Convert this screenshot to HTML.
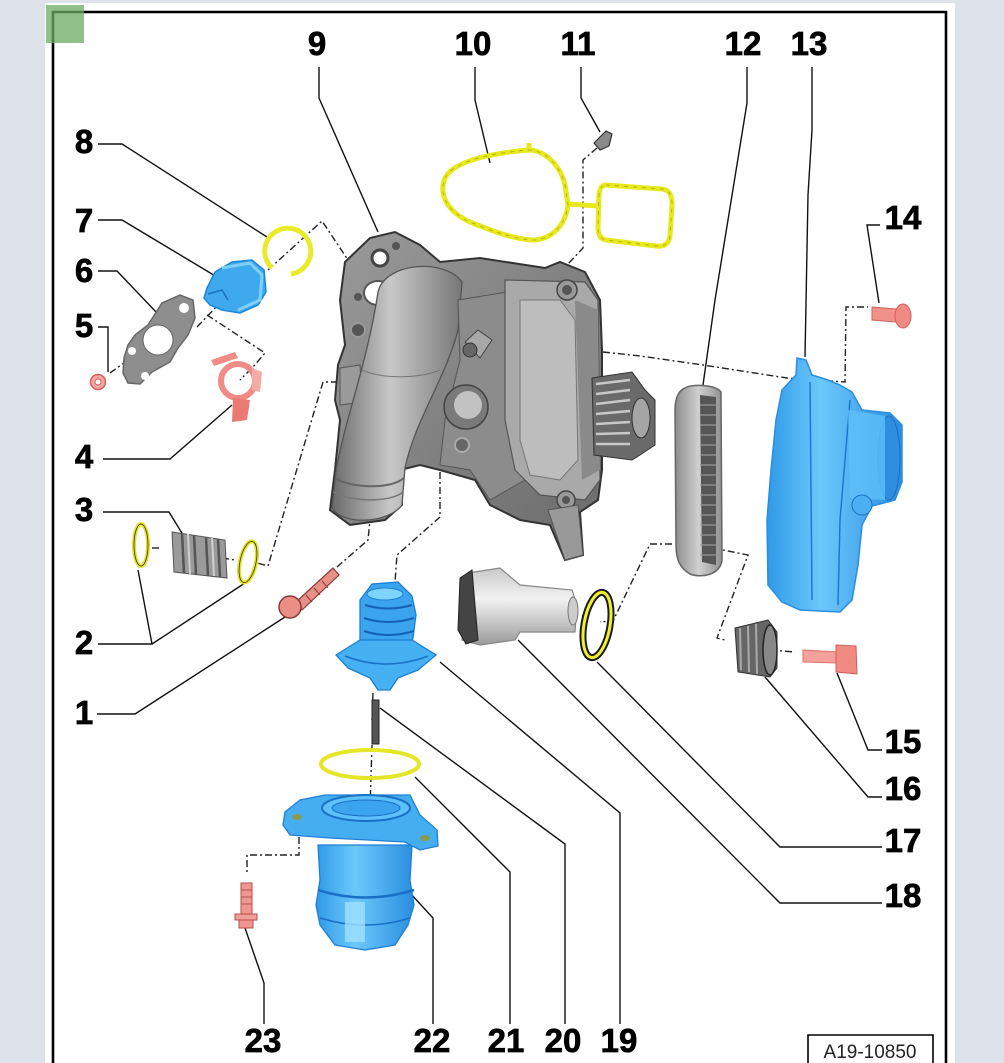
<!DOCTYPE html>
<html><head><meta charset="utf-8"><style>
html,body{margin:0;padding:0;background:#dde3e8;}
svg{display:block;}
.lb{font-family:"Liberation Sans",Arial,sans-serif;font-weight:bold;font-size:33px;fill:#000;stroke:#000;stroke-width:0.7;text-anchor:middle;}
.ld{fill:none;stroke:#111;stroke-width:1.4;}
.cl{fill:none;stroke:#222;stroke-width:1.4;stroke-dasharray:7 3 2 3;}
</style></head><body>
<svg width="1004" height="1063" viewBox="0 0 1004 1063" xmlns="http://www.w3.org/2000/svg">
<defs>
<linearGradient id="pipe" x1="0" y1="0" x2="1" y2="0">
<stop offset="0" stop-color="#6a6a6a"/><stop offset="0.45" stop-color="#c8c8c8"/><stop offset="1" stop-color="#777"/></linearGradient>
<linearGradient id="gbody" x1="0" y1="0" x2="1" y2="1">
<stop offset="0" stop-color="#9a9a9a"/><stop offset="1" stop-color="#6a6a6a"/></linearGradient>
<linearGradient id="blue" x1="0" y1="0" x2="1" y2="0">
<stop offset="0" stop-color="#2f9ae8"/><stop offset="0.4" stop-color="#6cc8fb"/><stop offset="1" stop-color="#2a8de0"/></linearGradient>
<linearGradient id="belt" x1="0" y1="0" x2="1" y2="0">
<stop offset="0" stop-color="#8c8c8c"/><stop offset="0.5" stop-color="#d0d0d0"/><stop offset="1" stop-color="#909090"/></linearGradient>
<linearGradient id="spin" x1="0" y1="0" x2="0" y2="1">
<stop offset="0" stop-color="#c8c8c8"/><stop offset="0.4" stop-color="#f2f2f2"/><stop offset="1" stop-color="#9a9a9a"/></linearGradient>
</defs>
<rect x="45" y="3" width="910" height="1060" fill="#fff"/>
<path d="M53,1063 L53,12 L946,12 L946,1063" fill="none" stroke="#000" stroke-width="2.6"/>
<rect x="46" y="5" width="38" height="38" fill="#6aac62" opacity="0.75"/>

<path class="cl" d="M268,270 L322,221 L370,293 L383,283"/>
<path class="cl" d="M207,315 L265,353 L253,367 L240,380"/>
<path class="cl" d="M110,373 L128,360"/>
<path class="cl" d="M197,327 L220,303"/>
<path class="cl" d="M338,382 L323,382 L268,566 L257,563"/>
<path class="cl" d="M152,548 L162,548"/>
<path class="cl" d="M222,558 L235,560"/>
<path class="cl" d="M337,567 L368,540 L378,437 L463,353"/>
<path class="cl" d="M440,457 L440,517 L397,555 L395,582"/>
<path class="cl" d="M373,693 L372,720"/>
<path class="cl" d="M372,745 L370,808"/>
<path class="cl" d="M299,837 L299,855 L247,855 L247,873"/>
<path class="cl" d="M597,148 L583,160 L583,248 L567,265"/>
<path class="cl" d="M603,352 L640,356 L703,365 L787,378 L845,382 L846,307 L868,307"/>
<path class="cl" d="M713,548 L748,555 L717,638 L725,640"/>
<path class="cl" d="M672,544 L650,544 L613,621 L600,622"/>
<path class="cl" d="M770,650 L795,652"/>

<path class="ld" d="M319,67 L319,98 L378,232"/>
<path class="ld" d="M475,67 L475,100 L490,163"/>
<path class="ld" d="M581,67 L581,98 L600,132"/>
<path class="ld" d="M747,67 L747,103 L715,300 L703,385"/>
<path class="ld" d="M812,67 L812,130 L808,195 L805,357"/>
<path class="ld" d="M880,225 L867,225 L879,303"/>
<path class="ld" d="M98,144 L122,144 L267,237"/>
<path class="ld" d="M98,220 L122,220 L217,277"/>
<path class="ld" d="M98,271 L117,271 L157,313"/>
<path class="ld" d="M98,327 L108,327 L108,372"/>
<path class="ld" d="M103,459 L170,459 L232,405"/>
<path class="ld" d="M103,512 L169,512 L188,543"/>
<path class="ld" d="M98,644 L152,644 L138,570 M152,644 L245,583"/>
<path class="ld" d="M97,714 L135,714 L285,617"/>
<path class="ld" d="M882,750 L868,750 L837,673"/>
<path class="ld" d="M882,797 L868,797 L765,677"/>
<path class="ld" d="M882,847 L780,847 L597,662"/>
<path class="ld" d="M882,903 L780,903 L518,640"/>
<path class="ld" d="M620,1024 L620,813 L440,662"/>
<path class="ld" d="M565,1024 L565,844 L380,708"/>
<path class="ld" d="M510,1024 L510,872 L415,777"/>
<path class="ld" d="M433,1024 L433,918 L410,893"/>
<path class="ld" d="M264,1024 L264,983 L245,928"/>

<g fill="none" stroke="#e8e820" stroke-width="5" stroke-linejoin="round">
<path d="M445,178 C455,158 505,152 528,150 C545,150 560,165 565,185 L568,205 C566,222 555,238 535,240 C515,240 490,230 470,222 C448,212 438,195 445,178 Z"/>
<path d="M568,204 L598,206"/>
<path d="M606,185 L662,189 C670,190 672,196 672,205 L670,236 C669,244 664,247 656,246 L606,240 C600,239 598,234 598,228 L599,194 C600,188 602,185 606,185 Z"/>
<path d="M529,150 L529,143"/>
</g>
<g fill="none" stroke="#b5b500" stroke-width="1" stroke-dasharray="4 5">
<path d="M445,178 C455,158 505,152 528,150 C545,150 560,165 565,185 L568,205 C566,222 555,238 535,240 C515,240 490,230 470,222 C448,212 438,195 445,178 Z"/>
<path d="M606,185 L662,189 C670,190 672,196 672,205 L670,236 C669,244 664,247 656,246 L606,240 C600,239 598,234 598,228 L599,194 C600,188 602,185 606,185 Z"/>
</g>
<path d="M594,143 L606,131 L612,134 L609,146 L600,150 Z" fill="#8a8a8a" stroke="#333" stroke-width="1.2"/>

<path d="M340,300 L345,262 L370,238 L395,232 L420,245 L440,262 L480,258 L545,268 L560,262 L585,272 L600,300 L602,350 L602,470 L598,500 L580,512 L583,555 L565,560 L550,525 L520,520 L490,505 L475,480 L440,470 L420,465 L400,470 L402,505 L385,520 L350,525 L330,510 L335,470 L340,420 L335,400 L338,365 L345,345 Z" fill="url(#gbody)" stroke="#333" stroke-width="2"/>
<circle cx="380" cy="258" r="8" fill="#fff" stroke="#444" stroke-width="3"/>
<circle cx="396" cy="246" r="4" fill="#555"/>
<circle cx="358" cy="330" r="7" fill="#555" stroke="#999" stroke-width="2"/>
<circle cx="358" cy="297" r="4" fill="#555"/>
<ellipse cx="378" cy="293" rx="14" ry="12" fill="#fff" stroke="#555" stroke-width="2"/>
<path d="M340,368 L360,365 L362,402 L340,405 Z" fill="#9a9a9a" stroke="#555"/>
<path d="M378,292 C385,262 445,258 462,282 L458,330 C445,380 415,420 405,468 L402,505 C390,522 345,527 332,508 L336,470 C345,420 368,360 378,292 Z" fill="url(#pipe)" stroke="#555" stroke-width="1.3"/>
<path d="M335,478 C350,488 390,490 404,478" fill="none" stroke="#666" stroke-width="2"/>
<path d="M333,492 C350,502 390,503 403,492" fill="none" stroke="#777" stroke-width="1.5"/>
<path d="M362,370 C385,380 420,378 440,370" fill="none" stroke="#777" stroke-width="1"/>
<path d="M458,300 L520,290 L525,480 L490,500 L470,470 L440,465 L445,420 L460,360 Z" fill="#8c8c8c" stroke="#555" stroke-width="1"/>
<circle cx="466" cy="407" r="22" fill="#7a7a7a" stroke="#444" stroke-width="1.5"/>
<circle cx="468" cy="405" r="14" fill="#c2c2c2"/>
<circle cx="462" cy="445" r="7" fill="#666" stroke="#aaa" stroke-width="2"/>
<path d="M465,342 L478,330 L492,340 L480,358 Z" fill="#a8a8a8" stroke="#444"/>
<circle cx="470" cy="350" r="7" fill="#666" stroke="#333"/>
<path d="M505,280 L585,282 L598,300 L600,480 L585,500 L540,495 L515,470 L505,420 Z" fill="#a9a9a9" stroke="#555" stroke-width="1.2"/>
<path d="M520,300 L560,300 L575,320 L578,460 L560,480 L530,475 L520,440 Z" fill="#bdbdbd" stroke="#777"/>
<path d="M575,300 L598,310 L600,470 L582,480 Z" fill="#8a8a8a"/>
<circle cx="567" cy="290" r="10" fill="#999" stroke="#444" stroke-width="1.5"/>
<circle cx="567" cy="290" r="5" fill="#555"/>
<circle cx="566" cy="500" r="9" fill="#999" stroke="#444" stroke-width="1.5"/>
<circle cx="566" cy="500" r="4" fill="#555"/>
<path d="M548,510 L578,505 L583,555 L565,560 Z" fill="#999" stroke="#555"/>
<path d="M592,378 L632,372 L645,390 L655,400 L655,445 L640,455 L632,460 L594,455 Z" fill="#6a6a6a" stroke="#333"/>
<g stroke="#c8c8c8" stroke-width="2.5">
<line x1="596" y1="384" x2="630" y2="380"/><line x1="596" y1="394" x2="630" y2="390"/>
<line x1="596" y1="404" x2="630" y2="400"/><line x1="596" y1="414" x2="630" y2="411"/>
<line x1="596" y1="424" x2="630" y2="422"/><line x1="596" y1="434" x2="630" y2="433"/>
<line x1="596" y1="444" x2="630" y2="444"/>
</g>
<ellipse cx="641" cy="418" rx="9" ry="20" fill="#a5a5a5" stroke="#333"/>

<path d="M272,268 A23,23 0 1 1 291,274" fill="none" stroke="#eaea2a" stroke-width="5"/>
<path d="M207,288 L215,272 L232,262 L252,260 L264,270 L266,292 L258,305 L240,313 L222,310 L210,305 L204,298 Z" fill="#3fa9ee" stroke="#1b86d8" stroke-width="1.5"/>
<path d="M222,268 L250,263 L262,275 L260,300 L238,310" fill="none" stroke="#7fd0fb" stroke-width="3"/>
<path d="M208,294 L222,290 L228,300" fill="none" stroke="#1b6fc0" stroke-width="1.5"/>
<path d="M128,345 L135,335 L148,325 L162,303 L180,295 L193,300 L195,318 L188,335 L178,348 L170,362 L152,372 L140,384 L128,383 L123,373 L124,358 Z" fill="#8e8e8e" stroke="#666" stroke-width="1.5"/>
<circle cx="158" cy="340" r="15" fill="#fff" stroke="#666"/>
<circle cx="184" cy="308" r="5" fill="#fff"/>
<circle cx="132" cy="351" r="4" fill="#fff"/>
<circle cx="145" cy="376" r="4" fill="#fff"/>
<circle cx="98" cy="382" r="7.5" fill="#f3a7a2" stroke="#d9605a" stroke-width="1.5"/>
<circle cx="98" cy="382" r="3" fill="#fff" stroke="#d9605a"/>
<circle cx="238" cy="381" r="17" fill="none" stroke="#f08c86" stroke-width="6"/>
<path d="M211,360 L235,352 L238,358 L214,366 Z" fill="#f08c86"/>
<path d="M233,398 L250,400 L247,420 L232,422 Z" fill="#ea7a73"/>
<path d="M252,368 L262,372 L260,392 L252,390 Z" fill="#f4aaa5"/>
<ellipse cx="141" cy="545" rx="7" ry="21" fill="none" stroke="#e2e21e" stroke-width="4"/>
<ellipse cx="141" cy="545" rx="7" ry="21" fill="none" stroke="#333" stroke-width="0.8"/>
<ellipse cx="248" cy="562" rx="8" ry="21" transform="rotate(12 248 562)" fill="none" stroke="#e2e21e" stroke-width="4"/>
<ellipse cx="248" cy="562" rx="8" ry="21" transform="rotate(12 248 562)" fill="none" stroke="#333" stroke-width="0.8"/>
<path d="M172,532 L225,540 L227,578 L174,572 Z" fill="#9a9a9a" stroke="#555"/>
<g stroke="#555" stroke-width="2.5"><line x1="182" y1="533" x2="184" y2="573"/><line x1="194" y1="535" x2="196" y2="575"/><line x1="206" y1="537" x2="208" y2="576"/><line x1="218" y1="539" x2="220" y2="577"/></g>
<g stroke="#d0d0d0" stroke-width="2"><line x1="188" y1="534" x2="190" y2="574"/><line x1="212" y1="538" x2="214" y2="576"/></g>
<path d="M296,602 L333,568 L339,575 L302,610 Z" fill="#e89088" stroke="#8a3a35" stroke-width="1.2"/>
<g stroke="#8a3a35" stroke-width="1"><line x1="306" y1="595" x2="312" y2="602"/><line x1="314" y1="588" x2="320" y2="595"/><line x1="322" y1="581" x2="328" y2="588"/></g>
<circle cx="290" cy="607" r="11" fill="#eb8f86" stroke="#8a3a35" stroke-width="1.5"/>

<path d="M872,307 L896,309 L896,322 L872,320 Z" fill="#f0928b" stroke="#d0605a"/>
<ellipse cx="903" cy="316" rx="8" ry="12" fill="#f08a83" stroke="#d0605a"/>
<path d="M685,388 C690,384 715,384 721,392 L722,560 C720,576 700,578 690,574 C680,568 676,560 676,545 L675,410 C675,398 678,391 685,388 Z" fill="url(#belt)" stroke="#666" stroke-width="1.5"/>
<path d="M700,395 L716,397 L716,565 L702,562 Z" fill="#555"/>
<g stroke="#999" stroke-width="1.2">
<line x1="700" y1="405" x2="716" y2="405"/><line x1="700" y1="415" x2="716" y2="415"/><line x1="700" y1="425" x2="716" y2="425"/><line x1="700" y1="435" x2="716" y2="435"/><line x1="700" y1="445" x2="716" y2="445"/><line x1="700" y1="455" x2="716" y2="455"/><line x1="700" y1="465" x2="716" y2="465"/><line x1="700" y1="475" x2="716" y2="475"/><line x1="700" y1="485" x2="716" y2="485"/><line x1="700" y1="495" x2="716" y2="495"/><line x1="700" y1="505" x2="716" y2="505"/><line x1="700" y1="515" x2="716" y2="515"/><line x1="700" y1="525" x2="716" y2="525"/><line x1="700" y1="535" x2="716" y2="535"/><line x1="700" y1="545" x2="716" y2="545"/><line x1="700" y1="555" x2="716" y2="555"/>
</g>
<path d="M797,358 L806,360 L812,375 L828,380 L840,385 L852,392 L862,410 L890,413 L902,425 L902,482 L895,500 L872,506 L862,525 L858,565 L852,600 L840,612 L800,610 L782,602 L768,585 L767,520 L771,470 L776,420 L782,390 L796,375 Z" fill="url(#blue)" stroke="#2a8de0" stroke-width="1.5"/>
<path d="M810,382 L812,600" stroke="#1f78d0" stroke-width="1.5" fill="none"/>
<path d="M850,400 L840,520 L838,605" stroke="#1f78d0" stroke-width="1.5" fill="none"/>
<ellipse cx="889" cy="458" rx="11" ry="42" fill="#2f8de0" stroke="#1c6ec0"/>
<path d="M848,410 L885,416 L885,500 L850,498 Z" fill="#5cc0fa" opacity="0.8"/>
<circle cx="862" cy="505" r="10" fill="#4ab0f2" stroke="#1c6ec0"/>
<path d="M735,628 L768,620 L777,632 L777,668 L770,677 L738,672 Z" fill="#666" stroke="#333"/>
<g stroke="#aaa" stroke-width="2"><line x1="740" y1="628" x2="741" y2="670"/><line x1="748" y1="626" x2="749" y2="672"/><line x1="756" y1="624" x2="757" y2="674"/></g>
<ellipse cx="770" cy="650" rx="7" ry="25" fill="#888" stroke="#222" stroke-width="1.5"/>
<path d="M803,650 L838,652 L838,663 L803,662 Z" fill="#f3a19a" stroke="#e0706a"/>
<path d="M836,645 L856,646 L857,674 L836,672 Z" fill="#f08a83" stroke="#d0605a"/>
<ellipse cx="597" cy="625" rx="13" ry="33" transform="rotate(10 597 625)" fill="none" stroke="#1a1a1a" stroke-width="7"/>
<ellipse cx="597" cy="625" rx="13" ry="33" transform="rotate(10 597 625)" fill="none" stroke="#f0f030" stroke-width="3"/>
<path d="M468,573 L500,568 L520,585 L572,590 L577,605 L575,632 L520,632 L515,640 L480,645 L462,640 Z" fill="url(#spin)" stroke="#888" stroke-width="1.2"/>
<path d="M460,578 L472,570 L478,640 L466,644 L458,630 Z" fill="#444" stroke="#222"/>
<ellipse cx="573" cy="611" rx="5" ry="14" fill="#ccc" stroke="#777"/>

<path d="M360,600 L372,584 L398,582 L412,596 L416,615 L412,645 L360,645 Z" fill="#3aa5ee" stroke="#1a7fd4" stroke-width="1.3"/>
<g stroke="#1561b8" stroke-width="2" fill="none">
<path d="M365,605 Q388,612 412,605"/><path d="M364,618 Q388,626 414,618"/><path d="M364,631 Q388,639 414,631"/>
</g>
<path d="M336,655 L360,640 L412,640 L436,655 L418,670 L398,678 L390,690 L378,690 L370,678 L348,668 Z" fill="#45b0f2" stroke="#1a7fd4" stroke-width="1.3"/>
<path d="M345,656 Q386,672 428,656" stroke="#1a6fc6" stroke-width="1.5" fill="none"/>
<ellipse cx="385" cy="594" rx="18" ry="6" fill="#7fd3ff" stroke="#1a7fd4"/>
<rect x="372" y="700" width="7" height="44" fill="#555" stroke="#222"/>
<ellipse cx="370" cy="764" rx="49" ry="14" fill="none" stroke="#e6e628" stroke-width="4"/>
<path d="M318,845 L412,845 L410,880 L414,905 L408,925 L395,945 L365,950 L335,945 L320,925 L316,905 L320,880 Z" fill="url(#blue)" stroke="#1f7fd6" stroke-width="1.3"/>
<path d="M318,890 Q365,905 414,890" stroke="#1a6fc6" stroke-width="2.5" fill="none"/>
<path d="M320,918 Q365,932 410,918" stroke="#1a6fc6" stroke-width="1.5" fill="none"/>
<rect x="345" y="902" width="20" height="40" fill="#9fe0ff" opacity="0.8"/>
<path d="M285,812 L300,800 L325,795 L410,795 L420,815 L437,830 L438,846 L420,850 L405,842 L330,838 L290,835 L283,825 Z" fill="#44aef1" stroke="#1f7fd6" stroke-width="1.3"/>
<ellipse cx="366" cy="808" rx="44" ry="13" fill="#5cc0fa" stroke="#1a6fc6" stroke-width="2"/>
<ellipse cx="366" cy="808" rx="34" ry="8" fill="#3aa5ee" stroke="#1a6fc6"/>
<ellipse cx="297" cy="817" rx="5" ry="3" fill="#8a9a50"/>
<ellipse cx="425" cy="838" rx="5" ry="3" fill="#8a9a50"/>
<rect x="241" y="883" width="11" height="32" fill="#ee968f" stroke="#b5504a"/>
<g stroke="#b5504a" stroke-width="1"><line x1="241" y1="890" x2="252" y2="890"/><line x1="241" y1="897" x2="252" y2="897"/><line x1="241" y1="904" x2="252" y2="904"/></g>
<rect x="235" y="914" width="22" height="6" fill="#f0a09a" stroke="#b5504a"/>
<rect x="239" y="920" width="14" height="8" fill="#ee968f" stroke="#b5504a"/>

<text class="lb" x="317" y="55">9</text>
<text class="lb" x="473" y="55">10</text>
<text class="lb" x="578" y="55">11</text>
<text class="lb" x="743" y="55">12</text>
<text class="lb" x="809" y="55">13</text>
<text class="lb" x="903" y="229">14</text>
<text class="lb" x="84" y="153">8</text>
<text class="lb" x="84" y="232">7</text>
<text class="lb" x="84" y="282">6</text>
<text class="lb" x="84" y="337">5</text>
<text class="lb" x="84" y="468">4</text>
<text class="lb" x="84" y="521">3</text>
<text class="lb" x="84" y="654">2</text>
<text class="lb" x="84" y="724">1</text>
<text class="lb" x="903" y="753">15</text>
<text class="lb" x="903" y="800">16</text>
<text class="lb" x="903" y="852">17</text>
<text class="lb" x="903" y="907">18</text>
<text class="lb" x="263" y="1052">23</text>
<text class="lb" x="432" y="1052">22</text>
<text class="lb" x="506" y="1052">21</text>
<text class="lb" x="563" y="1052">20</text>
<text class="lb" x="619" y="1052">19</text>

<path d="M808,1063 L808,1035 L933,1035 L933,1063" fill="none" stroke="#000" stroke-width="1.6"/>
<text x="870" y="1058" font-family="Liberation Sans, Arial, sans-serif" font-size="19" fill="#222" text-anchor="middle">A19-10850</text>
</svg>
</body></html>
